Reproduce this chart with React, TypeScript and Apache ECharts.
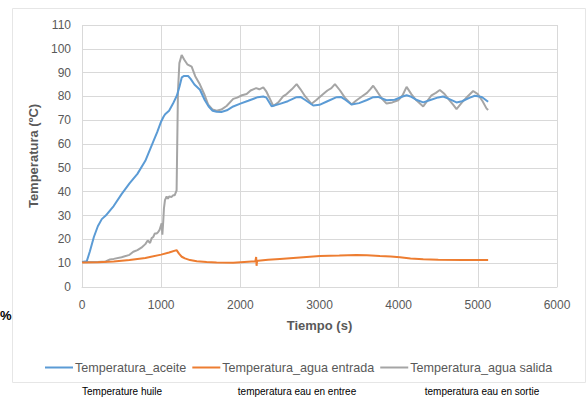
import React, { useEffect, useRef } from "react";
import * as echarts from "echarts";

const xTicks = [0, 1000, 2000, 3000, 4000, 5000, 6000];
const yTicks = [0, 10, 20, 30, 40, 50, 60, 70, 80, 90, 100, 110];

const seriesNames = [
  "Temperatura_aceite",
  "Temperatura_agua entrada",
  "Temperatura_agua salida",
];
const frenchLabels = [
  "Temperature huile",
  "temperatura eau en entree",
  "temperatura eau en sortie",
];

const aceiteT = [0, 60, 100, 150, 200, 250, 300, 350, 400, 500, 600, 700, 800, 900, 950, 1000, 1030, 1050, 1100, 1150, 1200, 1230, 1260, 1290, 1340, 1370, 1420, 1490, 1550, 1600, 1650, 1700, 1760, 1830, 1910, 2000, 2100, 2220, 2290, 2330, 2395, 2500, 2600, 2710, 2760, 2820, 2921, 3000, 3100, 3216, 3270, 3330, 3405, 3500, 3600, 3678, 3740, 3847, 3950, 4050, 4100, 4150, 4230, 4310, 4400, 4500, 4562, 4620, 4731, 4800, 4900, 4962, 5050, 5130];
const aceiteV = [10.5, 10.8, 15, 21, 25.5, 28.5, 30, 32, 34, 39, 43.5, 47.5, 53, 61, 65, 69.5, 71.5, 72.5, 74, 77, 80.5, 84, 88, 88.6, 88.6, 87.5, 85, 82.8, 78.5, 75.8, 74, 73.6, 73.5, 74.2, 75.8, 77, 78.2, 79.7, 80, 79.5, 75.9, 76.9, 78, 79.7, 79.8, 78.5, 76.2, 76.5, 78, 79.7, 79.8, 78.5, 76.6, 77.2, 78.5, 79.7, 79.8, 78.4, 78.6, 80, 80.5, 80, 78.5, 77.5, 78.5, 79.6, 80, 79.2, 77.5, 78, 79.5, 80.3, 79.8, 77.8];

const entradaT = [0, 200, 400, 600, 800, 1000, 1100, 1195, 1225, 1260, 1300, 1364, 1450, 1574, 1700, 1910, 2050, 2190, 2200, 2205, 2212, 2225, 2350, 2500, 2753, 3005, 3250, 3468, 3600, 3763, 3900, 4016, 4150, 4310, 4500, 4800, 5130];
const entradaV = [10.3, 10.4, 10.7, 11.3, 12.2, 13.6, 14.5, 15.5, 14, 12.7, 12, 11.3, 10.8, 10.5, 10.3, 10.2, 10.5, 10.8, 12.6, 8.9, 11, 11, 11.4, 11.8, 12.4, 13, 13.2, 13.4, 13.3, 13, 12.8, 12.5, 12, 11.6, 11.4, 11.3, 11.3];

const salidaT = [0, 100, 200, 300, 354, 400, 500, 600, 648, 700, 750, 800, 830, 860, 880, 900, 920, 943, 960, 980, 1006, 1015, 1027, 1035, 1048, 1069, 1085, 1100, 1132, 1150, 1170, 1195, 1212, 1230, 1259, 1290, 1330, 1385, 1430, 1490, 1550, 1595, 1650, 1700, 1760, 1826, 1910, 1960, 2020, 2080, 2130, 2163, 2200, 2240, 2290, 2330, 2374, 2416, 2480, 2540, 2585, 2650, 2711, 2760, 2820, 2900, 2960, 3047, 3100, 3150, 3195, 3260, 3320, 3405, 3460, 3552, 3600, 3640, 3678, 3730, 3790, 3847, 3920, 3994, 4050, 4100, 4160, 4220, 4310, 4370, 4415, 4470, 4520, 4580, 4640, 4690, 4731, 4800, 4870, 4941, 5000, 5060, 5109, 5130];
const salidaV = [10.5, 10.5, 10.5, 10.7, 11.6, 11.8, 12.5, 13.5, 14.8, 15.5, 16.5, 18, 19.5, 18.5, 20.5, 21, 22.5, 22.5, 23, 24, 26.7, 22, 28, 33, 36.5, 38, 37, 38, 37.8, 38.5, 38.5, 40.6, 82, 94, 97.4, 95.5, 93.5, 92.5, 88.5, 85, 80.5, 76.5, 74.5, 74, 74.5, 76, 79, 79.5, 80.5, 81, 82.5, 83, 83.5, 83, 83.8, 82, 79, 76, 77.5, 80, 81, 83, 85.2, 83, 80, 76.9, 78.5, 81, 82.5, 83.5, 85.2, 82.5, 79.5, 76.6, 78.2, 80.4, 81.5, 83, 84.5, 82, 79, 77, 77.5, 78.4, 80.5, 84, 81, 78.5, 75.8, 78.5, 80.5, 81.5, 82.7, 81, 78.5, 76.5, 74.7, 77.5, 80, 82.3, 81, 78, 75, 74.3];

const pairs = (t: number[], v: number[]) => t.map((x, i) => [x, v[i]]);

export default function App() {
  const ref = useRef<HTMLDivElement>(null);
  useEffect(() => {
    if (!ref.current) return;
    const chart = echarts.init(ref.current, undefined, { renderer: "svg" });
    const gray = "#595959";
    const font = "'Liberation Sans', Arial, sans-serif";
    chart.setOption({
      animation: false,
      backgroundColor: "#ffffff",
      grid: { left: 82, right: 31, top: 25, bottom: 111 },
      xAxis: {
        type: "value",
        min: xTicks[0],
        max: xTicks[xTicks.length - 1],
        interval: 1000,
        name: "Tiempo (s)",
        nameLocation: "middle",
        nameGap: 32,
        nameTextStyle: { color: gray, fontSize: 13, fontWeight: "bold", fontFamily: font },
        axisLine: { show: true, lineStyle: { color: "#d9d9d9" } },
        axisTick: { show: false },
        axisLabel: { color: gray, fontSize: 12, margin: 12, fontFamily: font, formatter: (v: number) => String(v) },
        splitLine: { show: true, lineStyle: { color: "#d9d9d9" } },
      },
      yAxis: {
        type: "value",
        min: yTicks[0],
        max: yTicks[yTicks.length - 1],
        interval: 10,
        name: "Temperatura (ºC)",
        nameLocation: "middle",
        nameGap: 36,
        nameTextStyle: { color: gray, fontSize: 13, fontWeight: "bold", fontFamily: font },
        axisLine: { show: false },
        axisTick: { show: false },
        axisLabel: { color: gray, fontSize: 12, margin: 11, fontFamily: font, formatter: (v: number) => String(v) },
        splitLine: { show: true, lineStyle: { color: "#d9d9d9" } },
      },
      legend: {
        top: 356,
        left: 40,
        itemWidth: 28,
        itemHeight: 2,
        itemGap: 6,
        icon: "rect",
        textStyle: { color: gray, fontSize: 12.6, fontFamily: font, padding: [0, 0, 0, -3] },
        data: seriesNames,
      },
      graphic: [
        {
          type: "rect",
          shape: { x: 12.5, y: 8.5, width: 573, height: 374 },
          style: { fill: "none", stroke: "#e6e6e6", lineWidth: 1 },
          z: -1,
        },
        {
          type: "text",
          x: 0,
          y: 315,
          style: { text: "%", fill: "#000", fontSize: 13, fontWeight: "bold", fontFamily: font, align: "left", verticalAlign: "middle" },
        },
        {
          type: "text",
          x: 122,
          y: 391,
          style: { text: frenchLabels[0], fill: "#000", fontSize: 10, fontFamily: font, align: "center", verticalAlign: "middle" },
        },
        {
          type: "text",
          x: 297,
          y: 391,
          style: { text: frenchLabels[1], fill: "#000", fontSize: 10, fontFamily: font, align: "center", verticalAlign: "middle" },
        },
        {
          type: "text",
          x: 482,
          y: 391,
          style: { text: frenchLabels[2], fill: "#000", fontSize: 10, fontFamily: font, align: "center", verticalAlign: "middle" },
        },
      ],
      series: [
        {
          name: seriesNames[0],
          type: "line",
          data: pairs(aceiteT, aceiteV),
          showSymbol: false,
          color: "#5B9BD5",
          lineStyle: { width: 2 },
          z: 3,
        },
        {
          name: seriesNames[1],
          type: "line",
          data: pairs(entradaT, entradaV),
          showSymbol: false,
          color: "#ED7D31",
          lineStyle: { width: 2 },
          z: 3,
        },
        {
          name: seriesNames[2],
          type: "line",
          data: pairs(salidaT, salidaV),
          showSymbol: false,
          color: "#A5A5A5",
          lineStyle: { width: 2 },
          z: 2,
        },
      ],
    });
    return () => chart.dispose();
  }, []);
  return (
    <div
      ref={ref}
      style={{ position: "absolute", left: 0, top: 0, width: 588, height: 398 }}
    />
  );
}
